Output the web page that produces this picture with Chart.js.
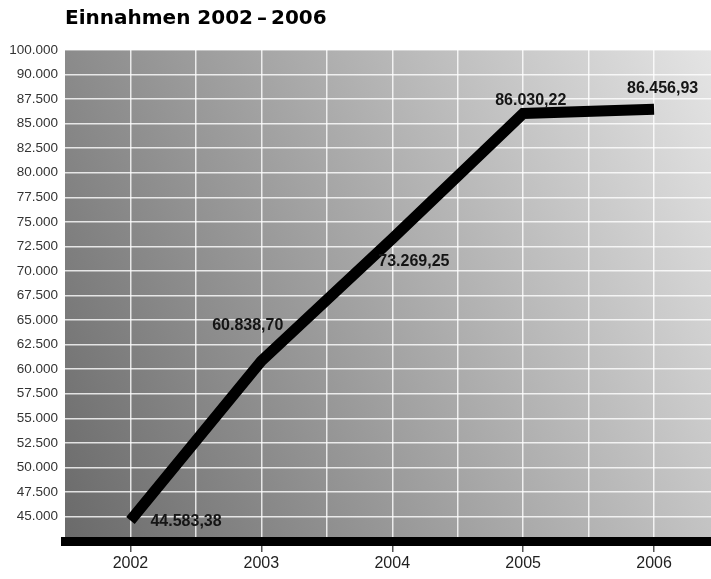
<!DOCTYPE html>
<html>
<head>
<meta charset="utf-8">
<script src="https://cdn.jsdelivr.net/npm/chart.js@4/dist/chart.umd.min.js"></script>
<style>
  html, body { margin: 0; padding: 0; background: #fff; }
  #wrap { width: 711px; height: 579px; }
</style>
</head>
<body>
<div id="wrap"><canvas id="chart"></canvas></div>
<script>
// data
const years = [2002, 2003, 2004, 2005, 2006];
const einnahmen = [44583.38, 60838.70, 73269.25, 86030.22, 86456.93];
// y tick labels, bottom to top (first tick 42.500 has no label, top label jumps to 100.000)
const yTickLabels = ['', '45.000', '47.500', '50.000', '52.500', '55.000', '57.500', '60.000',
  '62.500', '65.000', '67.500', '70.000', '72.500', '75.000', '77.500', '80.000',
  '82.500', '85.000', '87.500', '90.000', '100.000'];

function fmtDE(v){
    const parts = v.toFixed(2).split('.');
    return parts[0].replace(/\B(?=(\d{3})+(?!\d))/g, '.') + ',' + parts[1];
}

// grey gradient behind the plot, dark bottom left -> light top right
const bgPlugin = {
    id: 'bg',
    beforeDraw(chart){
        const a = chart.chartArea, ctx = chart.ctx;
        const w = a.right - a.left, h = a.bottom - a.top;
        const gx = 89 / w, gy = 33 / h;
        const len = Math.hypot(gx, gy);
        const dist = (89 + 33) / len;
        const g = ctx.createLinearGradient(a.left, a.bottom,
            a.left + dist * gx / len, a.bottom - dist * gy / len);
        g.addColorStop(0, '#6a6a6a');
        g.addColorStop(1, '#e4e4e4');
        ctx.save();
        ctx.fillStyle = g;
        ctx.fillRect(a.left, a.top, w, h);
        ctx.restore();
    }
};

// value labels next to the points
const labelOffsets = [[20, 1, 'left'], [22, -35, 'right'], [-14, 23, 'left'], [-28, -13, 'left'], [-27, -21, 'left']];
const valueLabels = {
    id: 'valueLabels',
    afterDatasetsDraw(chart){
        const ctx = chart.ctx;
        const pts = chart.getDatasetMeta(0).data;
        ctx.save();
        ctx.font = 'bold 16px "Liberation Sans", Arial, sans-serif';
        ctx.fillStyle = '#151515';
        ctx.textBaseline = 'middle';
        pts.forEach((p, i) => {
            const o = labelOffsets[i];
            ctx.textAlign = o[2];
            ctx.fillText(fmtDE(einnahmen[i]), p.x + o[0], p.y + o[1]);
        });
        ctx.restore();
    }
};

new Chart("chart", {
    type: "line",
    data: {
        datasets: [{
            data: years.map((y, i) => ({x: y, y: einnahmen[i]})),
            borderColor: "#000",
            borderWidth: 11,
            borderCapStyle: "butt",
            borderJoinStyle: "miter",
            fill: false,
            pointRadius: 0,
            tension: 0
        }]
    },
    options: {
        responsive: true,
        maintainAspectRatio: false,
        animation: false,
        layout: { padding: 0 },
        plugins: {
            legend: { display: false },
            tooltip: { enabled: false },
            title: {
                display: true,
                text: "Einnahmen 2002\u2009\u2013\u20092006",
                align: "start",
                fullSize: false,
                color: "#000",
                font: { family: '"DejaVu Sans", sans-serif', size: 20, weight: "bold", lineHeight: 1.2 },
                padding: { top: 7, bottom: 19 }
            }
        },
        scales: {
            x: {
                type: "linear",
                min: 2001.5,
                max: 2006.435,
                afterFit: s => { s.height = 38; },
                afterBuildTicks: s => {
                    s.ticks = [];
                    years.forEach(y => { s.ticks.push({value: y - 0.5}, {value: y}); });
                },
                border: { display: true, color: "#000", width: 9 },
                grid: {
                    color: ctx => ctx.index === 0 ? "rgba(0,0,0,0)" : "rgba(255,255,255,0.8)",
                    lineWidth: 1.5,
                    tickLength: 11,
                    tickColor: ctx => (ctx.tick && Number.isInteger(ctx.tick.value)) ? "#555" : "rgba(0,0,0,0)",
                    tickWidth: 1.5
                },
                ticks: {
                    autoSkip: false,
                    maxRotation: 0,
                    padding: 2,
                    color: "#222",
                    font: { family: '"Liberation Sans", Arial, sans-serif', size: 16 },
                    callback: v => Number.isInteger(v) ? String(v) : ""
                }
            },
            y: {
                min: 42500,
                max: 92500,
                afterFit: s => { s.width = 65; },
                border: { display: false },
                grid: {
                    color: "rgba(255,255,255,0.8)",
                    lineWidth: 1.5,
                    drawTicks: false
                },
                ticks: {
                    stepSize: 2500,
                    autoSkip: false,
                    padding: 7,
                    color: "#333",
                    font: { family: '"Liberation Sans", Arial, sans-serif', size: 13.5 },
                    callback: (v, i) => yTickLabels[i]
                }
            }
        }
    },
    plugins: [bgPlugin, valueLabels]
});
</script>
</body>
</html>
